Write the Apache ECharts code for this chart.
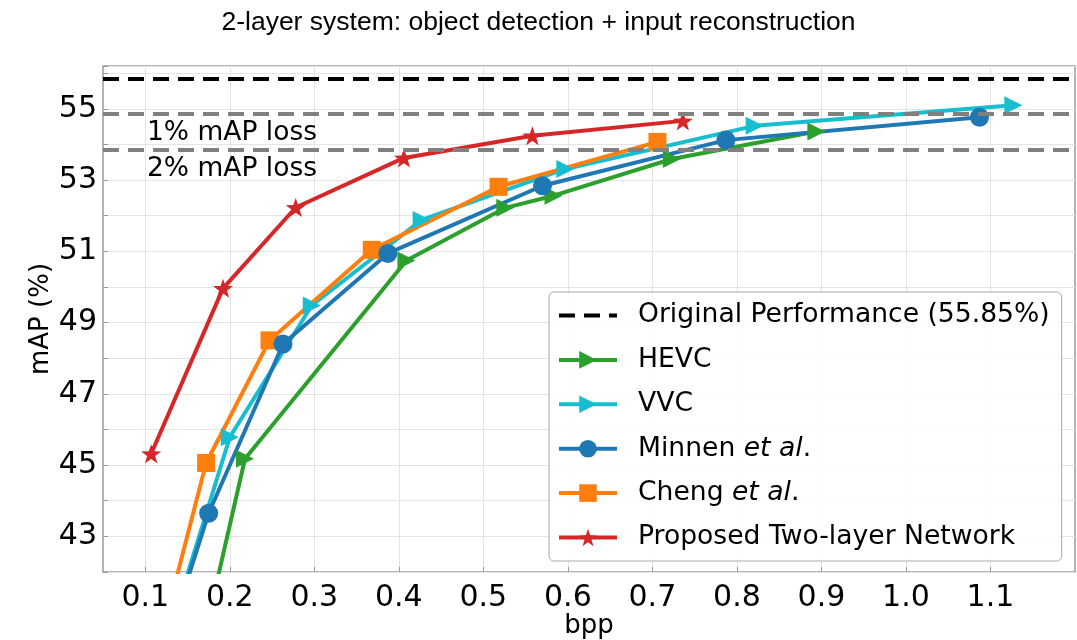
<!DOCTYPE html>
<html>
<head>
<meta charset="utf-8">
<title>2-layer system: object detection + input reconstruction</title>
<script src="https://cdn.jsdelivr.net/npm/echarts@6/dist/echarts.min.js"></script>
<style>
  html, body { margin: 0; padding: 0; background: #ffffff; }
  #chart { width: 1077px; height: 640px; }
</style>
</head>
<body>
<div id="chart"></div>
<script>
// Rate (bpp) vs. detection accuracy (mAP, %) for each codec.
const hevcBpp = [0.170, 0.218, 0.409, 0.526, 0.583, 0.723, 0.894];
const hevcMap = [40.2, 45.18, 50.74, 52.22, 52.56, 53.59, 54.36];

const vvcBpp = [0.135, 0.200, 0.297, 0.427, 0.597, 0.821, 1.127];
const vvcMap = [40.8, 45.78, 49.48, 51.88, 53.31, 54.52, 55.10];

const minnenBpp = [0.134, 0.175, 0.263, 0.387, 0.570, 0.787, 1.087];
const minnenMap = [40.6, 43.65, 48.40, 50.94, 52.84, 54.12, 54.76];

const chengBpp = [0.117, 0.172, 0.247, 0.368, 0.518, 0.706];
const chengMap = [40.0, 45.06, 48.50, 51.04, 52.81, 54.07];

const proposedBpp = [0.107, 0.192, 0.278, 0.406, 0.558, 0.736];
const proposedMap = [45.32, 49.96, 52.23, 53.62, 54.24, 54.66];

// Reference accuracy levels
const originalMap = 55.85;
const lossLevels = [54.85, 53.85];
const lossLabels = ['1% mAP loss', '2% mAP loss'];

// Tick labels
const xTickLabels = [0.1, 0.2, 0.3, 0.4, 0.5, 0.6, 0.7, 0.8, 0.9, 1.0, 1.1];
const yTickLabels = [43, 45, 47, 49, 51, 53, 55];

const seriesNames = [
  'Original Performance (55.85%)',
  'HEVC',
  'VVC',
  'Minnen et al.',
  'Cheng et al.',
  'Proposed Two-layer Network'
];

const FONT = 'DejaVu Sans';
const STAR = 'path://M0,-10L2.35,-3.24L9.51,-3.09L3.8,1.24L5.88,8.09L0,4L-5.88,8.09L-3.8,1.24L-9.51,-3.09L-2.35,-3.24Z';

function pairs(xs, ys) {
  return xs.map((x, i) => [x, ys[i]]);
}

function curve(name, xs, ys, color, symbol, size, rotate) {
  return {
    name: name,
    type: 'line',
    data: pairs(xs, ys),
    symbol: symbol,
    symbolSize: size,
    symbolRotate: rotate || 0,
    symbolKeepAspect: true,
    showAllSymbol: true,
    clip: true,
    lineStyle: { color: color, width: 4 },
    itemStyle: { color: color, borderWidth: 0 },
    emphasis: { disabled: true }
  };
}

const chart = echarts.init(document.getElementById('chart'), null, { renderer: 'canvas' });

chart.setOption({
  animation: false,
  backgroundColor: '#ffffff',
  title: {
    text: '2-layer system: object detection + input reconstruction',
    left: 'center',
    top: 4,
    textStyle: {
      fontFamily: 'Liberation Sans',
      fontSize: 26.5,
      fontWeight: 'normal',
      color: '#000000'
    }
  },
  grid: {
    left: 103,
    top: 66,
    width: 972,
    height: 506,
    outerBoundsMode: 'none',
    show: true,
    borderColor: '#9a9a9a',
    borderWidth: 1.5,
    backgroundColor: '#ffffff'
  },
  legend: {
    data: [
      // the reference level is shown as a bare dashed line
      { name: seriesNames[0], itemStyle: { opacity: 0 } },
      seriesNames[1], seriesNames[2], seriesNames[3], seriesNames[4], seriesNames[5]
    ],
    orient: 'vertical',
    left: 549,
    top: 292,
    padding: [10, 12, 10, 8],
    itemGap: 17.4,
    itemWidth: 58,
    itemHeight: 22,
    backgroundColor: 'rgba(255,255,255,0.85)',
    borderColor: '#a8a8a8',
    borderWidth: 1,
    borderRadius: 5,
    selectedMode: false,
    lineStyle: { width: 4 },
    textStyle: {
      fontFamily: FONT,
      fontSize: 26.6,
      color: '#000000',
      padding: [0, 0, 0, 16],
      rich: {
        it: { fontFamily: FONT, fontSize: 26.6, fontStyle: 'italic', color: '#000000' }
      }
    },
    formatter: function (name) {
      const m = name.match(/^(.*?)(et al)(\.)$/);
      return m ? m[1] + '{it|' + m[2] + '}' + m[3] : name;
    }
  },
  xAxis: {
    type: 'value',
    min: 0.05,
    max: 1.2,
    name: 'bpp',
    nameLocation: 'middle',
    nameGap: 41,
    nameMoveOverlap: false,
    nameTextStyle: { fontFamily: FONT, fontSize: 26, color: '#000000' },
    axisLine: { show: false },
    axisTick: {
      show: true, inside: true, length: 5,
      customValues: xTickLabels,
      lineStyle: { color: '#9a9a9a', width: 1 }
    },
    axisLabel: {
      customValues: xTickLabels,
      formatter: v => v.toFixed(1),
      fontFamily: FONT,
      fontSize: 30,
      color: '#000000',
      margin: 11
    },
    splitLine: { show: true, lineStyle: { color: '#e4e4e4', width: 1 } }
  },
  yAxis: {
    type: 'value',
    min: 42,
    max: 56.2,
    interval: 1,
    name: 'mAP (%)',
    nameLocation: 'middle',
    nameGap: 49,
    nameMoveOverlap: false,
    nameTextStyle: { fontFamily: FONT, fontSize: 26, color: '#000000' },
    axisLine: { show: false },
    axisTick: {
      show: true, inside: true, length: 5,
      lineStyle: { color: '#9a9a9a', width: 1 }
    },
    axisLabel: {
      formatter: v => (yTickLabels.indexOf(v) >= 0 ? String(v) : ''),
      fontFamily: FONT,
      fontSize: 30,
      color: '#000000',
      margin: 6
    },
    splitLine: { show: true, lineStyle: { color: '#e4e4e4', width: 1 } }
  },
  series: [
    {
      name: seriesNames[0],
      type: 'line',
      data: [],
      symbol: 'none',
      lineStyle: { color: '#000000', width: 4, type: [16, 9] },
      itemStyle: { color: '#000000' },
      markLine: {
        silent: true,
        symbol: ['none', 'none'],
        label: { show: false },
        lineStyle: { color: '#000000', width: 4, type: [16, 9] },
        data: [{ yAxis: originalMap }]
      }
    },
    {
      name: 'loss levels',
      type: 'line',
      data: [],
      symbol: 'none',
      markLine: {
        silent: true,
        symbol: ['none', 'none'],
        lineStyle: { color: '#808080', width: 4, type: [16, 9] },
        label: {
          show: true,
          position: 'insideStartBottom',
          distance: 6,
          padding: [0, 0, 0, 38],
          fontFamily: FONT,
          fontSize: 26.5,
          color: '#000000'
        },
        data: lossLevels.map((v, i) => ({
          yAxis: v,
          label: { formatter: lossLabels[i] }
        }))
      }
    },
    curve(seriesNames[1], hevcBpp, hevcMap, '#2ca02c', 'triangle', 18, -90),
    curve(seriesNames[2], vvcBpp, vvcMap, '#17becf', 'triangle', 18, -90),
    curve(seriesNames[4], chengBpp, chengMap, '#ff7f0e', 'rect', 18),
    curve(seriesNames[3], minnenBpp, minnenMap, '#1f77b4', 'circle', 19),
    curve(seriesNames[5], proposedBpp, proposedMap, '#d62728', STAR, 20)
  ]
});
</script>
</body>
</html>
